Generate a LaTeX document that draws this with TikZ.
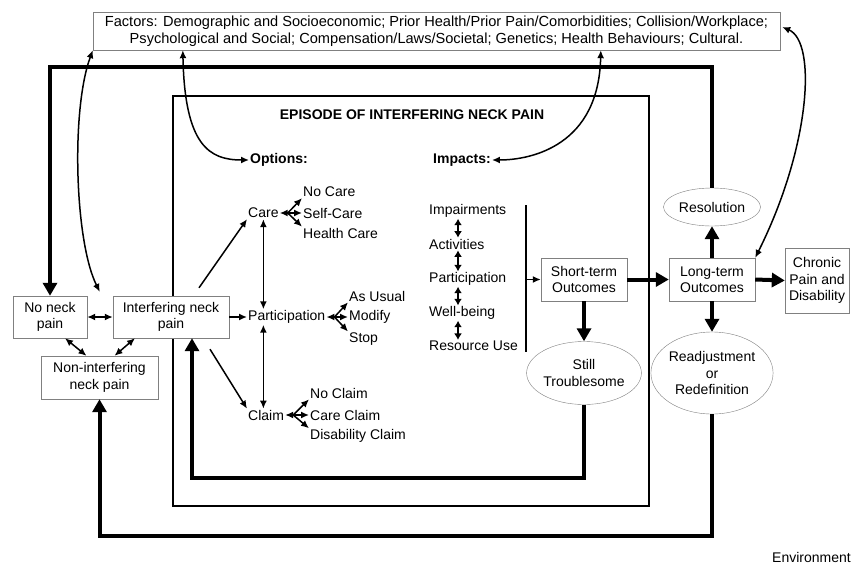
\documentclass[tikz,border=0pt]{standalone}
\usepackage{fontspec}
\setmainfont{Liberation Sans}
\usetikzlibrary{arrows.meta,positioning,shapes.geometric,calc}
\newcommand{\lbl}{\fontsize{14}{16.5}\selectfont}
\newcommand{\fac}{\fontsize{14.6}{16.5}\selectfont}
\tikzset{
  box/.style={draw=gray, fill=white, align=center, inner sep=1pt, font=\lbl},
  oval/.style={ellipse, draw=gray, fill=white, align=center, inner sep=0pt, font=\lbl},
  lbl/.style={inner sep=1pt, font=\lbl, anchor=west},
  arr/.style={line width=1.5pt, -{Latex[length=8pt,width=7pt]}},
  dbl/.style={line width=1.5pt, {Latex[length=8pt,width=7pt]}-{Latex[length=8pt,width=7pt]}},
  heavy/.style={line width=4pt, -{Triangle[length=13pt,width=14pt]}},
}
\begin{document}
\begin{tikzpicture}[x=1pt,y=-1pt]
  \useasboundingbox (0,0) rectangle (853,568);
  % Episode frame
  \draw[line width=1.4pt] (173,96) rectangle (649,506);
  \node[font=\lbl\bfseries] (title) at (412,115) {EPISODE OF INTERFERING NECK PAIN};
  \node[lbl,font=\lbl\bfseries] (options) at (249,160) {Options:};
  \node[lbl,font=\lbl\bfseries] (impacts) at (432,160) {Impacts:};
  % Factors
  \node[box, minimum width=687pt, minimum height=38pt, font=\fac] (factors) at (436.5,31)
    {Factors: Demographic and Socioeconomic; Prior Health/Prior Pain/Comorbidities; Collision/Workplace;\\
     Psychological and Social; Compensation/Laws/Societal; Genetics; Health Behaviours; Cultural.};
  % Neck pain states
  \node[box, minimum width=74pt, minimum height=42pt] (nopain) at (50,317) {No neck\\pain};
  \node[box, minimum width=116pt, minimum height=42pt] (inter) at (171,317) {Interfering neck\\pain};
  \node[box, minimum width=117pt, minimum height=43pt] (nonint) at (99.5,377.5) {Non-interfering\\neck pain};
  % Options
  \node[lbl] (care) at (247,213) {Care};
  \node[lbl] (nocare) at (302,192) {No Care};
  \node[lbl] (selfcare) at (302,213) {Self-Care};
  \node[lbl] (healthcare) at (302,233) {Health Care};
  \node[lbl] (part) at (247,317) {Participation};
  \node[lbl] (asusual) at (348,296) {As Usual};
  \node[lbl] (modify) at (348,317) {Modify};
  \node[lbl] (stop) at (348,339) {Stop};
  \node[lbl] (claim) at (247,415) {Claim};
  \node[lbl] (noclaim) at (309,393) {No Claim};
  \node[lbl] (careclaim) at (309,415) {Care Claim};
  \node[lbl] (disclaim) at (309,436) {Disability Claim};
  % Impacts
  \foreach \t/\y [count=\i] in {Impairments/211, Activities/244, Participation/279, Well-being/313, Resource Use/346}
    \node[lbl] (imp\i) at (428,\y) {\t};
  \coordinate (impx) at (458,0);
  \foreach \i [evaluate=\i as \j using int(\i+1)] in {1,...,4}
    \draw[line width=1.5pt, {Latex[length=6.5pt,width=8pt]}-{Latex[length=6.5pt,width=8pt]}] (imp\i.south -| impx) -- (imp\j.north -| impx);
  % Outcomes
  \node[box, minimum width=86pt, minimum height=43pt] (st) at (584,279.5) {Short-term\\Outcomes};
  \node[box, minimum width=86pt, minimum height=43pt] (lt) at (712,279.5) {Long-term\\Outcomes};
  \node[box, minimum width=64pt, minimum height=65pt] (chronic) at (817,280.5) {Chronic\\Pain and\\Disability};
  \node[oval, minimum width=97pt, minimum height=38pt] (res) at (712,207) {Resolution};
  \node[oval, minimum width=117pt, minimum height=82pt] (readj) at (712,373) {Readjustment\\or\\Redefinition};
  \node[oval, minimum width=108pt, minimum height=63pt] (still) at (584,373) {Still\\Troublesome};
  \node[font=\lbl, anchor=south east, inner sep=0pt] (env) at (851,563) {Environment};
  % Bracket to short-term outcomes
  \coordinate (brtop) at (526,205);
  \coordinate (brbot) at (526,352);
  \draw[line width=1.5pt] (brtop) -- (brbot);
  \draw[arr] (brtop |- st.west) -- (st.west);
  % Thin arrows
  \draw[dbl] (nopain.east) -- (inter.west);
  \draw[dbl] ([xshift=15pt]nopain.south) -- ([xshift=-13pt]nonint.north);
  \draw[dbl] ([xshift=-36pt]inter.south) -- ([xshift=15pt]nonint.north);
  \draw[arr] ($(inter.north)+(28,-8)$) -- (care.south west);
  \draw[arr] (inter.east) -- (part.west);
  \draw[arr] ($(inter.south)+(39,11)$) -- (claim.north west);
  \draw[dbl] (care.south) -- (care.south |- part.north);
  \draw[dbl] (care.south |- part.south) -- (care.south |- claim.north);
  % Forks
  \draw[dbl] (care.east) -- (selfcare.west);
  \draw[arr] ($(care.east)+(8,0)$) -- (nocare.south west);
  \draw[arr] ($(care.east)+(8,0)$) -- (healthcare.north west);
  \draw[dbl] (part.east) -- (modify.west);
  \draw[arr] ($(part.east)+(8,0)$) -- (asusual.south west);
  \draw[arr] ($(part.east)+(8,0)$) -- (stop.north west);
  \draw[dbl] (claim.east) -- (careclaim.west);
  \draw[arr] ($(claim.east)+(8,0)$) -- (noclaim.south west);
  \draw[arr] ($(claim.east)+(8,0)$) -- (disclaim.north west);
  % Factor links
  \draw[dbl] ($(factors.south west)+(90,0)$) .. controls +(2,95) and +(-40,0) .. (options.west);
  \draw[dbl] ($(factors.south west)+(508,0)$) .. controls +(-2,95) and +(40,0) .. (impacts.east);
  \draw[dbl] (factors.south west) .. controls +(-22,60) and +(-25,-50) .. ($(inter.north west)+(-13,-4)$);
  \draw[dbl] ($(factors.east)+(2,-4)$) .. controls +(35,15) and +(55,-110) .. (lt.north east);
  % Heavy arrows
  \draw[heavy] (st.east) -- (lt.west);
  \draw[heavy] (lt.east) -- (chronic.west);
  \draw[heavy] (lt.north) -- (res.south);
  \draw[heavy] (lt.south) -- (readj.north);
  \draw[heavy] (st.south) -- (still.north);
  % Loops
  \coordinate (toploop) at (50,67);
  \coordinate (innerloop) at (192,478);
  \coordinate (outerloop) at (99.5,536);
  \draw[heavy] (res.north) |- (toploop) -- (nopain.north);
  \draw[heavy] (still.south) |- (innerloop) -- (innerloop |- inter.south);
  \draw[heavy] (readj.south) |- (outerloop) -- (outerloop |- nonint.south);
\end{tikzpicture}
\end{document}
